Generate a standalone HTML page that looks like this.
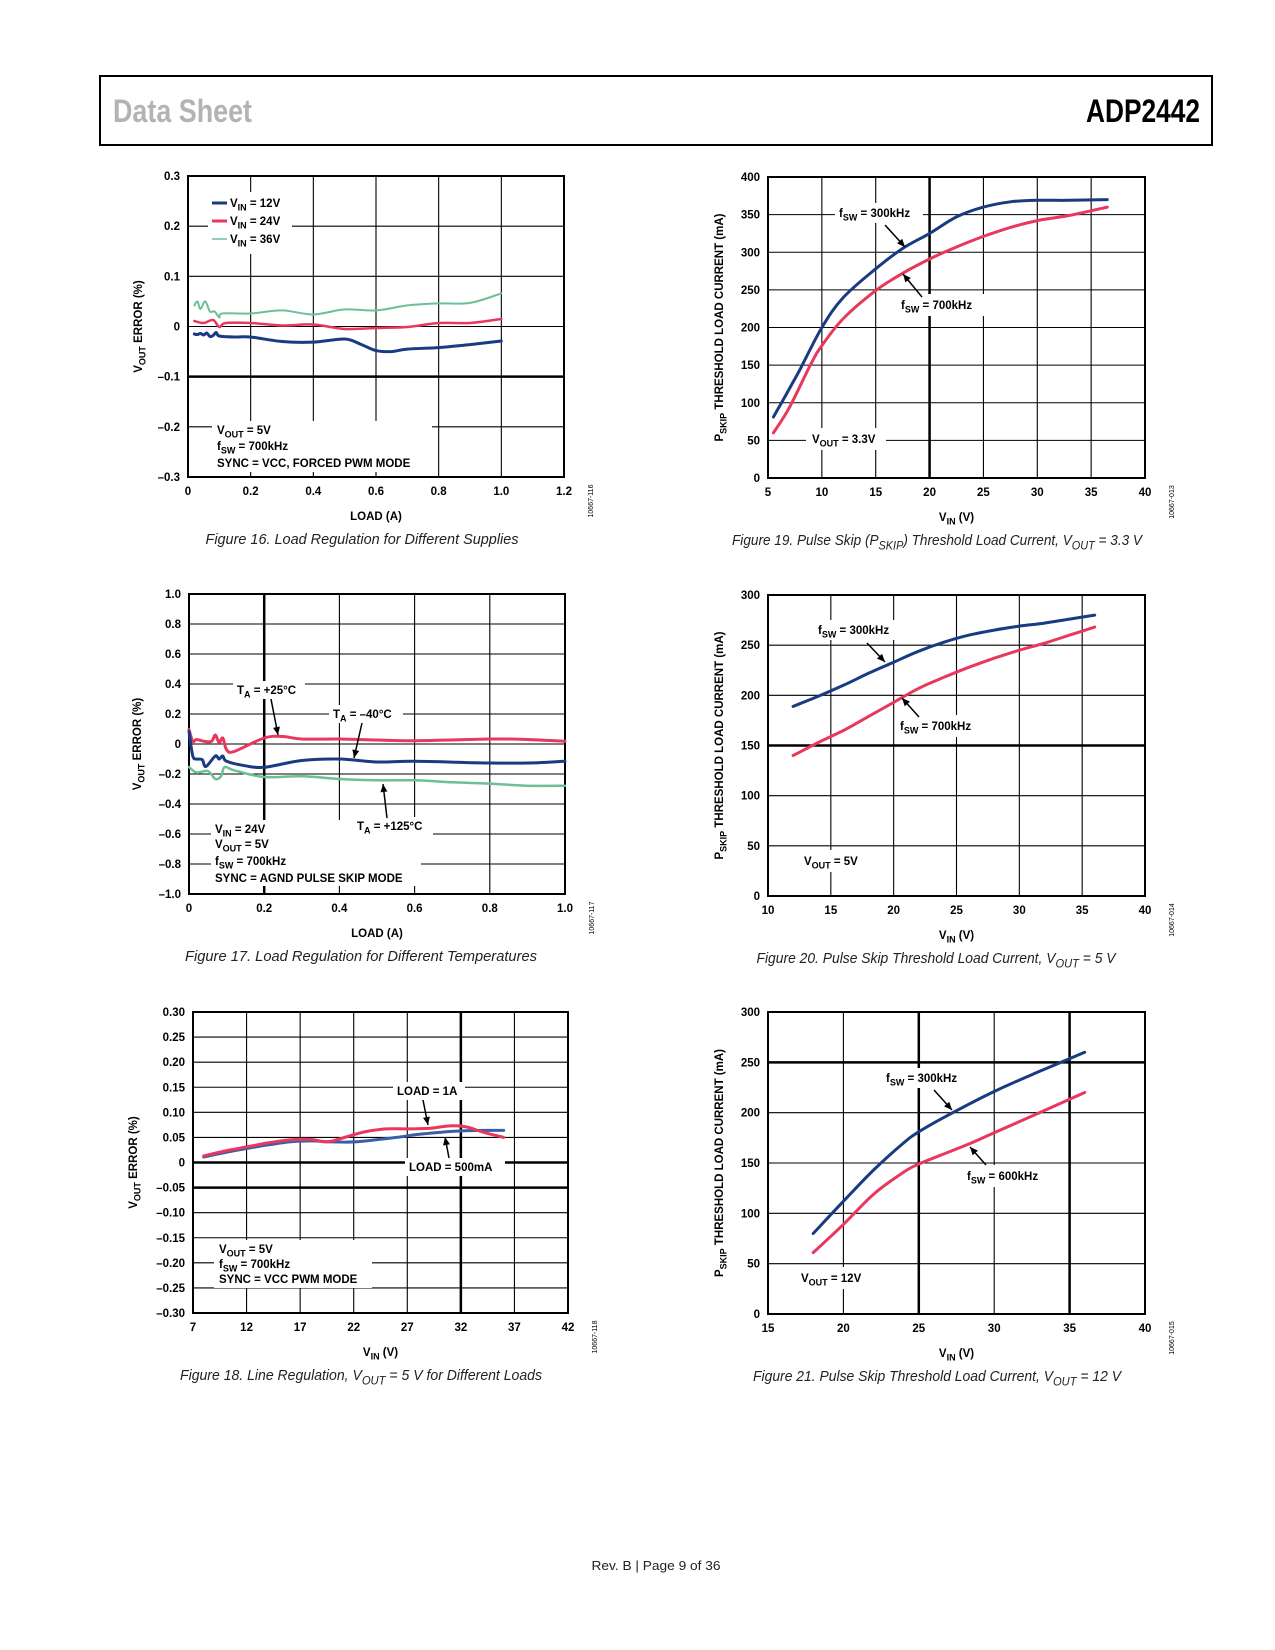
<!DOCTYPE html>
<html><head><meta charset="utf-8"><style>
html,body{margin:0;padding:0;background:#fff}
svg{display:block}
text{font-family:"Liberation Sans",Arial,sans-serif}
</style></head><body>
<svg id="page" xmlns="http://www.w3.org/2000/svg" width="1275" height="1650" viewBox="0 0 1275 1650">
<rect x="0" y="0" width="1275" height="1650" fill="#fff"/>
<g>
<rect x="100" y="76" width="1112" height="69" fill="none" stroke="#000" stroke-width="2"/>
<text x="113" y="122" font-size="32" font-weight="bold" fill="#b3b3b3" textLength="139" lengthAdjust="spacingAndGlyphs" style="font-family:'Liberation Sans Narrow','Liberation Sans',sans-serif">Data Sheet</text>
<text x="1086" y="122" font-size="32" font-weight="bold" fill="#000" textLength="114" lengthAdjust="spacingAndGlyphs" style="font-family:'Liberation Sans Narrow','Liberation Sans',sans-serif">ADP2442</text>
</g>
<text x="656" y="1570" font-size="13" text-anchor="middle" fill="#222" textLength="129" lengthAdjust="spacingAndGlyphs">Rev. B | Page 9 of 36</text>
<g id="charts"></g>
</svg>
<script>
// ---------- DATA ----------
// Figure 16
const f16_x12 = [0.02,0.03,0.04,0.05,0.06,0.07,0.08,0.09,0.1,0.15,0.2,0.3,0.4,0.5,0.55,0.6,0.65,0.7,0.8,0.9,1.0];
const f16_y12 = [-0.015,-0.016,-0.014,-0.017,-0.013,-0.02,-0.018,-0.012,-0.019,-0.021,-0.021,-0.03,-0.031,-0.025,-0.035,-0.048,-0.05,-0.045,-0.042,-0.036,-0.029];
const f16_x24 = [0.02,0.05,0.08,0.1,0.12,0.2,0.3,0.4,0.5,0.6,0.7,0.8,0.9,1.0];
const f16_y24 = [0.011,0.007,0.013,-0.001,0.007,0.007,0.002,0.004,-0.005,-0.003,-0.001,0.007,0.007,0.015];
const f16_x36 = [0.02,0.03,0.04,0.055,0.07,0.085,0.1,0.11,0.2,0.3,0.4,0.5,0.6,0.7,0.8,0.9,1.0];
const f16_y36 = [0.042,0.05,0.035,0.05,0.03,0.03,0.018,0.026,0.026,0.032,0.024,0.034,0.032,0.042,0.046,0.047,0.066];
// Figure 17
const f17_x25 = [0,0.01,0.02,0.04,0.06,0.07,0.08,0.09,0.1,0.12,0.2,0.25,0.3,0.4,0.5,0.6,0.8,0.9,1.0];
const f17_y25 = [0.096,0.018,0.03,0.018,0.018,0.06,0.01,0.04,-0.038,-0.05,0.04,0.05,0.033,0.033,0.027,0.022,0.033,0.03,0.018];
const f17_xm40 = [0,0.01,0.02,0.035,0.045,0.07,0.08,0.09,0.1,0.15,0.2,0.3,0.4,0.5,0.6,0.8,0.9,1.0];
const f17_ym40 = [0.084,-0.08,-0.1,-0.104,-0.15,-0.08,-0.1,-0.08,-0.115,-0.145,-0.155,-0.11,-0.1,-0.12,-0.115,-0.127,-0.127,-0.115];
const f17_x125 = [0,0.02,0.05,0.07,0.085,0.095,0.12,0.2,0.3,0.4,0.5,0.6,0.7,0.8,0.9,1.0];
const f17_y125 = [-0.153,-0.19,-0.18,-0.233,-0.215,-0.153,-0.175,-0.22,-0.215,-0.233,-0.242,-0.242,-0.255,-0.264,-0.278,-0.278];
// Figure 18
const f18_x1A = [8,10,12,14,16,18,19.5,21,23,25,27,29,31,32.5,34,36];
const f18_y1A = [0.013,0.023,0.031,0.039,0.045,0.046,0.041,0.049,0.061,0.067,0.067,0.068,0.073,0.071,0.061,0.05];
const f18_x500 = [8,10,12,14,16,18,20,22,24,26,28,30,32,34,36];
const f18_y500 = [0.011,0.02,0.028,0.035,0.041,0.043,0.041,0.041,0.045,0.05,0.056,0.06,0.063,0.064,0.064];
// Figure 19
const f19_x300 = [5.5,7,8,10,12,15,17.5,20,22.5,25,27.5,30,33,36.5];
const f19_y300 = [81,119,145,200,240,278,305,325,347,360,367,369,369,370];
const f19_x700 = [5.5,7,9,10,12,15,17.5,20,22.5,25,27.5,30,33,36.5];
const f19_y700 = [60,94,152,176,212,249,272,291,307,321,333,342,349,360];
// Figure 20
const f20_x300 = [12,14,16,18,20,22,24,26,28,30,32,34,36];
const f20_y300 = [189,199,210,222,233,244,253,260,265,269,272,276,280];
const f20_x700 = [12,14,16,18,20,22,24,26,28,30,32,34,36];
const f20_y700 = [140,153,165,179,193,207,218,228,237,245,252,260,268];
// Figure 21
const f21_x300 = [18,20,22,24,25,27,30,33,36];
const f21_y300 = [80,112,143,170,181,198,221,241,260];
const f21_x600 = [18,20,22,24,25,27,28.5,30,33,36];
const f21_y600 = [61,89,119,141,149,161,170,180,200,220];
// Tick labels
const t16_x = [0,0.2,0.4,0.6,0.8,1.0,1.2];
const t16_xl = ["0","0.2","0.4","0.6","0.8","1.0","1.2"];
const t16_y = [0.3,0.2,0.1,0,-0.1,-0.2,-0.3];
const t16_yl = ["0.3","0.2","0.1","0","–0.1","–0.2","–0.3"];
const t17_x = [0,0.2,0.4,0.6,0.8,1.0];
const t17_xl = ["0","0.2","0.4","0.6","0.8","1.0"];
const t17_y = [1,0.8,0.6,0.4,0.2,0,-0.2,-0.4,-0.6,-0.8,-1];
const t17_yl = ["1.0","0.8","0.6","0.4","0.2","0","–0.2","–0.4","–0.6","–0.8","–1.0"];
const t18_x = [7,12,17,22,27,32,37,42];
const t18_xl = ["7","12","17","22","27","32","37","42"];
const t18_y = [0.3,0.25,0.2,0.15,0.1,0.05,0,-0.05,-0.1,-0.15,-0.2,-0.25,-0.3];
const t18_yl = ["0.30","0.25","0.20","0.15","0.10","0.05","0","–0.05","–0.10","–0.15","–0.20","–0.25","–0.30"];
const t19_x = [5,10,15,20,25,30,35,40];
const t19_xl = ["5","10","15","20","25","30","35","40"];
const t19_y = [400,350,300,250,200,150,100,50,0];
const t19_yl = ["400","350","300","250","200","150","100","50","0"];
const t20_x = [10,15,20,25,30,35,40];
const t20_xl = ["10","15","20","25","30","35","40"];
const t20_y = [300,250,200,150,100,50,0];
const t20_yl = ["300","250","200","150","100","50","0"];
const t21_x = [15,20,25,30,35,40];
const t21_xl = ["15","20","25","30","35","40"];
const t21_y = [300,250,200,150,100,50,0];
const t21_yl = ["300","250","200","150","100","50","0"];

// ---------- RENDER ----------
const NS = "http://www.w3.org/2000/svg";
const root = document.getElementById('charts');
const BLUE = "#183b82", RED = "#e8385c", GREEN = "#6cc095";
function mk(tag, parent){ const e = document.createElementNS(NS, tag); parent.appendChild(e); return e; }
function rich(t, str, size){
  const re = /([^{]*)(\{([^}]*)\})?/g; let m;
  while((m = re.exec(str)) && (m[0].length)){
    if(m[1]){ const s = mk('tspan', t); s.textContent = m[1]; }
    if(m[3] !== undefined){
      const s = mk('tspan', t); s.textContent = m[3];
      s.setAttribute('font-size', Math.round(size*0.8)); s.setAttribute('dy', size*0.3);
      const r = mk('tspan', t); r.setAttribute('dy', -size*0.3); r.textContent = "\u200b";
    }
  }
}
function label(g, x, y, str, opts){
  opts = opts || {};
  const size = opts.size || 11.5;
  const t = mk('text', g);
  t.setAttribute('x', x); t.setAttribute('y', y);
  t.setAttribute('font-size', size); t.setAttribute('font-weight', opts.weight || 'bold');
  if(opts.anchor) t.setAttribute('text-anchor', opts.anchor);
  if(opts.rotate) t.setAttribute('transform', 'rotate(-90 '+x+' '+y+')');
  if(opts.italic) t.setAttribute('font-style', 'italic');
  if(opts.len){ t.setAttribute('textLength', opts.len); t.setAttribute('lengthAdjust','spacingAndGlyphs'); }
  t.setAttribute('fill', opts.fill || '#000');
  rich(t, str, size);
  return t;
}
function smoothPath(pts){
  let d = "M"+pts[0][0].toFixed(1)+","+pts[0][1].toFixed(1);
  for(let i=0;i<pts.length-1;i++){
    const p0 = pts[Math.max(i-1,0)], p1 = pts[i], p2 = pts[i+1], p3 = pts[Math.min(i+2,pts.length-1)];
    const c1 = [p1[0]+(p2[0]-p0[0])/6, p1[1]+(p2[1]-p0[1])/6];
    const c2 = [p2[0]-(p3[0]-p1[0])/6, p2[1]-(p3[1]-p1[1])/6];
    d += " C"+c1.map(v=>v.toFixed(1)).join(",")+" "+c2.map(v=>v.toFixed(1)).join(",")+" "+p2[0].toFixed(1)+","+p2[1].toFixed(1);
  }
  return d;
}
function chart(c){
  const g = mk('g', root);
  
  
  const sx = v => c.L + (v - c.xd[0]) / (c.xd[1]-c.xd[0]) * (c.R - c.L);
  const sy = v => c.B - (v - c.yd[0]) / (c.yd[1]-c.yd[0]) * (c.B - c.T);
  const grid = mk('g', g);
  
  
  c.xt.forEach(v => { const l = mk('line', grid); const X = sx(v);
    l.setAttribute('x1',X); l.setAttribute('x2',X); l.setAttribute('y1',c.T); l.setAttribute('y2',c.B);
    l.setAttribute('stroke','#000'); l.setAttribute('stroke-width', (c.thickX||[]).includes(v)?2.5:1.1); });
  c.yt.forEach(v => { const l = mk('line', grid); const Y = sy(v);
    l.setAttribute('x1',c.L); l.setAttribute('x2',c.R); l.setAttribute('y1',Y); l.setAttribute('y2',Y);
    l.setAttribute('stroke','#000'); l.setAttribute('stroke-width', (c.thickY||[]).includes(v)?2.5:1.1); });
  (c.bgs||[]).forEach(b => { const r = mk('rect', g);
    r.setAttribute('x',b[0]); r.setAttribute('y',b[1]); r.setAttribute('width',b[2]); r.setAttribute('height',b[3]); r.setAttribute('fill','#fff'); });
  const fr = mk('rect', g);
  
  
  fr.setAttribute('x',c.L); fr.setAttribute('y',c.T); fr.setAttribute('width',c.R-c.L); fr.setAttribute('height',c.B-c.T);
  fr.setAttribute('fill','none'); fr.setAttribute('stroke','#000'); fr.setAttribute('stroke-width',2);
  c.series.forEach(s => {
    const p = mk('path', g);
    
    
    p.setAttribute('d', smoothPath(s.x.map((v,i)=>[sx(v), sy(s.y[i])])));
    p.setAttribute('fill','none'); p.setAttribute('stroke', s.color); p.setAttribute('stroke-width', s.w||3);
    p.setAttribute('stroke-linejoin','round'); p.setAttribute('stroke-linecap','round');
  });
  c.xt.forEach((v,i) => { const t = label(g, sx(v), c.B+18, c.xtl[i], {anchor:'middle', size:11.5});
    
     });
  c.yt.forEach((v,i) => { const t = label(g, c.L-8, sy(v)+4, c.ytl[i], {anchor:'end', size:11.5});
    
     });
  const xt = label(g, (c.L+c.R)/2, c.B+43, c.xtitle, {anchor:'middle', size:11.5});
  
  
  const yt = label(g, c.ytx, (c.T+c.B)/2, c.ytitle, {anchor:'middle', size:11.5, rotate:true});
  
  
  const id = label(g, c.R+29, c.B+24, c.id, {anchor:'middle', size:7, weight:'normal', rotate:true});
  
  
  const cap = label(g, c.capX, c.B+67, c.caption, {anchor:'middle', size:15, weight:'normal', italic:true, len:c.capLen, fill:'#222'});
  
  
  (c.notes||[]).forEach(n => { const t = label(g, n[0], n[1], n[2], {size:11.5});
    
     });
  (c.arrows||[]).forEach(a => {
    const l = mk('line', g);
    
    
    l.setAttribute('x1',a[0]); l.setAttribute('y1',a[1]); l.setAttribute('x2',a[2]); l.setAttribute('y2',a[3]);
    l.setAttribute('stroke','#000'); l.setAttribute('stroke-width',1.5);
    const ang = Math.atan2(a[3]-a[1], a[2]-a[0]);
    const hl = 8, hw = 3.5;
    const bx = a[2]-hl*Math.cos(ang), by = a[3]-hl*Math.sin(ang);
    const h = mk('polygon', g);
    
    
    h.setAttribute('points', a[2]+","+a[3]+" "+(bx-hw*Math.sin(ang))+","+(by+hw*Math.cos(ang))+" "+(bx+hw*Math.sin(ang))+","+(by-hw*Math.cos(ang)));
    h.setAttribute('fill','#000');
  });
  (c.legend||[]).forEach(lg => { const l = mk('line', g);
    
    
    l.setAttribute('x1',lg[0]); l.setAttribute('x2',lg[0]+15); l.setAttribute('y1',lg[1]); l.setAttribute('y2',lg[1]);
    l.setAttribute('stroke',lg[2]); l.setAttribute('stroke-width',lg[3]); });
}

chart({name:'figure-16-chart', L:188,R:564,T:176,B:477, xd:[0,1.2], yd:[-0.3,0.3],
  xt:t16_x, xtl:t16_xl, yt:t16_y, ytl:t16_yl, thickY:[-0.1],
  xtitle:'LOAD (A)', ytitle:'V{OUT} ERROR (%)', ytx:142, id:'10667-116',
  caption:'Figure 16. Load Regulation for Different Supplies', capX:362, capLen:313,
  series:[{name:'series-vin-36v',x:f16_x36,y:f16_y36,color:GREEN,w:2},
          {name:'series-vin-24v',x:f16_x24,y:f16_y24,color:RED,w:2.5},
          {name:'series-vin-12v',x:f16_x12,y:f16_y12,color:BLUE,w:3}],
  bgs:[[208,192,84,62],[212,421,220,51]],
  legend:[[212,203,BLUE,3],[212,221,RED,3],[212,239,GREEN,1.5]],
  notes:[[230,207,'V{IN} = 12V'],[230,225,'V{IN} = 24V'],[230,243,'V{IN} = 36V'],
         [217,434,'V{OUT} = 5V'],[217,450,'f{SW} = 700kHz'],[217,467,'SYNC = VCC, FORCED PWM MODE']]
});

chart({name:'figure-17-chart', L:189,R:565,T:594,B:894, xd:[0,1], yd:[-1,1],
  xt:t17_x, xtl:t17_xl, yt:t17_y, ytl:t17_yl, thickX:[0.2],
  xtitle:'LOAD (A)', ytitle:'V{OUT} ERROR (%)', ytx:141, id:'10667-117',
  caption:'Figure 17. Load Regulation for Different Temperatures', capX:361, capLen:352,
  series:[{name:'series-ta-125c',x:f17_x125,y:f17_y125,color:GREEN,w:2.5},
          {name:'series-ta-25c',x:f17_x25,y:f17_y25,color:RED,w:3},
          {name:'series-ta-minus40c',x:f17_xm40,y:f17_ym40,color:BLUE,w:3}],
  bgs:[[233,681,72,18],[329,705,74,18],[353,817,80,18],[211,820,210,66]],
  notes:[[237,694,'T{A} = +25°C'],[333,718,'T{A} = –40°C'],[357,830,'T{A} = +125°C'],
         [215,833,'V{IN} = 24V'],[215,848,'V{OUT} = 5V'],[215,865,'f{SW} = 700kHz'],[215,882,'SYNC = AGND PULSE SKIP MODE']],
  arrows:[[271,699,278,735],[362,723,354,758],[387,818,383,784]]
});

chart({name:'figure-18-chart', L:193,R:568,T:1012,B:1313, xd:[7,42], yd:[-0.3,0.3],
  xt:t18_x, xtl:t18_xl, yt:t18_y, ytl:t18_yl, thickX:[32], thickY:[0,-0.05],
  xtitle:'V{IN} (V)', ytitle:'V{OUT} ERROR (%)', ytx:137, id:'10667-118',
  caption:'Figure 18. Line Regulation, V{OUT} = 5 V for Different Loads', capX:361, capLen:362,
  series:[{name:'series-load-500ma',x:f18_x500,y:f18_y500,color:'#3a5fa8',w:3},
          {name:'series-load-1a',x:f18_x1A,y:f18_y1A,color:RED,w:3}],
  bgs:[[393,1082,72,18],[405,1158,100,18],[214,1240,158,48]],
  notes:[[397,1095,'LOAD = 1A'],[409,1171,'LOAD = 500mA'],
         [219,1253,'V{OUT} = 5V'],[219,1268,'f{SW} = 700kHz'],[219,1283,'SYNC = VCC PWM MODE']],
  arrows:[[423,1100,428,1125],[449,1158,445,1137]]
});

chart({name:'figure-19-chart', L:768,R:1145,T:177,B:478, xd:[5,40], yd:[0,400],
  xt:t19_x, xtl:t19_xl, yt:t19_y, ytl:t19_yl, thickX:[20],
  xtitle:'V{IN} (V)', ytitle:'P{SKIP} THRESHOLD LOAD CURRENT (mA)', ytx:723, id:'10667-013',
  caption:'Figure 19. Pulse Skip (P{SKIP}) Threshold Load Current, V{OUT} = 3.3 V', capX:937, capLen:410,
  series:[{name:'series-fsw-700khz',x:f19_x700,y:f19_y700,color:RED,w:3},
          {name:'series-fsw-300khz',x:f19_x300,y:f19_y300,color:BLUE,w:3}],
  bgs:[[835,203,88,20],[897,294,90,22],[806,428,80,22]],
  notes:[[839,217,'f{SW} = 300kHz'],[901,309,'f{SW} = 700kHz'],[812,443,'V{OUT} = 3.3V']],
  arrows:[[885,225,905,247],[922,297,903,274]]
});

chart({name:'figure-20-chart', L:768,R:1145,T:595,B:896, xd:[10,40], yd:[0,300],
  xt:t20_x, xtl:t20_xl, yt:t20_y, ytl:t20_yl, thickY:[150],
  xtitle:'V{IN} (V)', ytitle:'P{SKIP} THRESHOLD LOAD CURRENT (mA)', ytx:723, id:'10667-014',
  caption:'Figure 20. Pulse Skip Threshold Load Current, V{OUT} = 5 V', capX:936, capLen:359,
  series:[{name:'series-fsw-700khz',x:f20_x700,y:f20_y700,color:RED,w:3},
          {name:'series-fsw-300khz',x:f20_x300,y:f20_y300,color:BLUE,w:3}],
  bgs:[[814,620,90,20],[896,715,90,22],[800,850,72,22]],
  notes:[[818,634,'f{SW} = 300kHz'],[900,730,'f{SW} = 700kHz'],[804,865,'V{OUT} = 5V']],
  arrows:[[867,643,885,662],[919,717,902,698]]
});

chart({name:'figure-21-chart', L:768,R:1145,T:1012,B:1314, xd:[15,40], yd:[0,300],
  xt:t21_x, xtl:t21_xl, yt:t21_y, ytl:t21_yl, thickX:[25,35], thickY:[250],
  xtitle:'V{IN} (V)', ytitle:'P{SKIP} THRESHOLD LOAD CURRENT (mA)', ytx:723, id:'10667-015',
  caption:'Figure 21. Pulse Skip Threshold Load Current, V{OUT} = 12 V', capX:937, capLen:368,
  series:[{name:'series-fsw-600khz',x:f21_x600,y:f21_y600,color:RED,w:3},
          {name:'series-fsw-300khz',x:f21_x300,y:f21_y300,color:BLUE,w:3}],
  bgs:[[882,1068,90,20],[963,1165,90,22],[797,1267,80,22]],
  notes:[[886,1082,'f{SW} = 300kHz'],[967,1180,'f{SW} = 600kHz'],[801,1282,'V{OUT} = 12V']],
  arrows:[[934,1090,952,1110],[986,1165,970,1147]]
});
</script>
</body></html>
